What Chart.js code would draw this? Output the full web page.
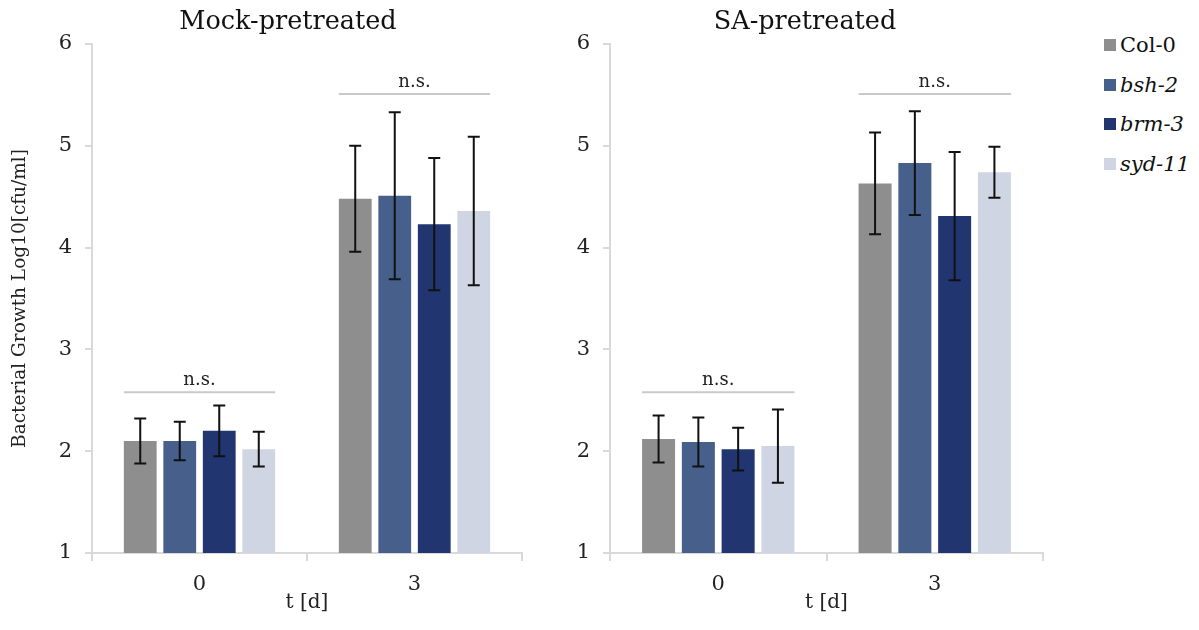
<!DOCTYPE html>
<html>
<head>
<meta charset="utf-8">
<script src="https://cdn.jsdelivr.net/npm/chart.js@4.4.0/dist/chart.umd.min.js"></script>
<style>
  html, body { margin: 0; padding: 0; background: #ffffff; }
  body { width: 1199px; height: 630px; position: relative; overflow: hidden; font-family: "DejaVu Serif", serif; }
  .cw { position: absolute; top: 0; height: 630px; }
  #wrapL { left: 0; width: 576px; }
  #wrapR { left: 545px; width: 520px; }
  #legend { position: absolute; left: 1104px; top: 33px; }
  .li { display: flex; align-items: center; height: 24px; margin-bottom: 15.5px; font-size: 21px; color: #111; }
  .sw { width: 12px; height: 12px; margin-right: 4px; }
</style>
</head>
<body>
<div class="cw" id="wrapL"><canvas id="cL"></canvas></div>
<div class="cw" id="wrapR"><canvas id="cR"></canvas></div>
<div id="legend"></div>
<script>
// ---- data ----
const categories = ['0', '3'];
const seriesNames = ['Col-0', 'bsh-2', 'brm-3', 'syd-11'];
const seriesItalic = [false, true, true, true];
const seriesColors = ['#8e8e8e', '#465f8b', '#213570', '#cfd5e3'];
const yTicks = [1, 2, 3, 4, 5, 6];

const mockCol0 = [2.10, 4.48];
const mockBsh2 = [2.10, 4.51];
const mockBrm3 = [2.20, 4.23];
const mockSyd11 = [2.02, 4.36];
const mockCol0Err = [0.22, 0.52];
const mockBsh2Err = [0.19, 0.82];
const mockBrm3Err = [0.25, 0.65];
const mockSyd11Err = [0.17, 0.73];
const mockSigLevel = [2.58, 5.51];
const mockSigText = ['n.s.', 'n.s.'];

const saCol0 = [2.12, 4.63];
const saBsh2 = [2.09, 4.83];
const saBrm3 = [2.02, 4.31];
const saSyd11 = [2.05, 4.74];
const saCol0Err = [0.23, 0.50];
const saBsh2Err = [0.24, 0.51];
const saBrm3Err = [0.21, 0.63];
const saSyd11Err = [0.36, 0.25];
const saSigLevel = [2.58, 5.51];
const saSigText = ['n.s.', 'n.s.'];

const FONT = '"DejaVu Serif", serif';
const AXIS = '#d9d9d9';

const errorBarPlugin = {
  id: 'errorBars',
  afterDatasetsDraw(chart) {
    const ctx = chart.ctx;
    const y = chart.scales.y;
    ctx.save();
    ctx.strokeStyle = '#111111';
    ctx.lineWidth = 2;
    chart.data.datasets.forEach((ds, di) => {
      const meta = chart.getDatasetMeta(di);
      meta.data.forEach((bar, i) => {
        const v = ds.data[i], e = ds.errors[i];
        const yt = y.getPixelForValue(v + e), yb = y.getPixelForValue(v - e);
        const cap = 6;
        ctx.beginPath();
        ctx.moveTo(bar.x, yt); ctx.lineTo(bar.x, yb);
        ctx.moveTo(bar.x - cap, yt); ctx.lineTo(bar.x + cap, yt);
        ctx.moveTo(bar.x - cap, yb); ctx.lineTo(bar.x + cap, yb);
        ctx.stroke();
      });
    });
    ctx.restore();
  }
};

const sigPlugin = {
  id: 'sig',
  afterDatasetsDraw(chart, args, opts) {
    const ctx = chart.ctx;
    const y = chart.scales.y;
    const n = chart.data.datasets.length;
    ctx.save();
    opts.levels.forEach((lv, i) => {
      const first = chart.getDatasetMeta(0).data[i];
      const last = chart.getDatasetMeta(n - 1).data[i];
      const x0 = first.x - first.width / 2, x1 = last.x + last.width / 2;
      const py = y.getPixelForValue(lv);
      ctx.strokeStyle = '#c9c9c9';
      ctx.lineWidth = 2;
      ctx.beginPath(); ctx.moveTo(x0, py); ctx.lineTo(x1, py); ctx.stroke();
      ctx.fillStyle = '#222222';
      ctx.font = '18px ' + FONT;
      ctx.textAlign = 'center';
      ctx.textBaseline = 'bottom';
      ctx.fillText(opts.texts[i], (x0 + x1) / 2, py - 3);
    });
    ctx.restore();
  }
};

function makeChart(id, title, vals, errs, sig, sigText, yWidth, rightSpace, showYTitle) {
  const datasets = seriesNames.map((name, k) => ({
    label: name,
    data: vals[k],
    errors: errs[k],
    backgroundColor: seriesColors[k],
    borderWidth: 0,
    categoryPercentage: 0.735,
    barPercentage: 0.83
  }));
  return new Chart(document.getElementById(id), {
    type: 'bar',
    data: { labels: categories, datasets },
    plugins: [errorBarPlugin, sigPlugin],
    options: {
      responsive: true,
      maintainAspectRatio: false,
      animation: false,
      layout: { padding: { left: 0, right: 0, top: 0, bottom: 0 } },
      plugins: {
        legend: { display: false },
        tooltip: { enabled: false },
        title: {
          display: true, text: title, color: '#111111',
          font: { family: FONT, size: 25.5, weight: 'normal' },
          padding: { top: 7, bottom: 6.4 }
        },
        sig: { levels: sig, texts: sigText }
      },
      scales: {
        x: {
          type: 'category',
          offset: true,
          grid: { offset: true, drawOnChartArea: false, drawTicks: true, tickLength: 8, color: AXIS, lineWidth: 2 },
          border: { display: true, color: AXIS, width: 2 },
          ticks: { color: '#222222', font: { family: FONT, size: 21 }, padding: 11 },
          title: { display: true, text: 't [d]', color: '#222222', font: { family: FONT, size: 20 }, padding: { top: 0, bottom: 15 } },
          afterFit(s) { s.height = 77; }
        },
        y: {
          min: yTicks[0], max: yTicks[yTicks.length - 1],
          afterBuildTicks(s) { s.ticks = yTicks.map(v => ({ value: v })); },
          grid: { drawOnChartArea: false, drawTicks: true, tickLength: 7, color: AXIS, lineWidth: 2 },
          border: { display: true, color: AXIS, width: 2 },
          ticks: { color: '#222222', font: { family: FONT, size: 21 }, padding: 13 },
          title: { display: showYTitle, text: 'Bacterial Growth Log10[cfu/ml]', color: '#222222', font: { family: FONT, size: 18.5 }, padding: { top: 9, bottom: 0 } },
          afterFit(s) { s.width = yWidth; }
        },
        spacer: {
          type: 'linear', position: 'right', display: true, min: 0, max: 1,
          grid: { display: false }, border: { display: false }, ticks: { display: false },
          afterFit(s) { s.width = rightSpace; }
        }
      }
    }
  });
}

makeChart('cL', 'Mock-pretreated',
  [mockCol0, mockBsh2, mockBrm3, mockSyd11],
  [mockCol0Err, mockBsh2Err, mockBrm3Err, mockSyd11Err],
  mockSigLevel, mockSigText, 92, 54, true);
makeChart('cR', 'SA-pretreated',
  [saCol0, saBsh2, saBrm3, saSyd11],
  [saCol0Err, saBsh2Err, saBrm3Err, saSyd11Err],
  saSigLevel, saSigText, 65, 22, false);

// legend
const lg = document.getElementById('legend');
seriesNames.forEach((name, k) => {
  const row = document.createElement('div');
  row.className = 'li';
  const sw = document.createElement('span');
  sw.className = 'sw';
  sw.style.background = seriesColors[k];
  const tx = document.createElement('span');
  tx.textContent = name;
  if (seriesItalic[k]) tx.style.fontStyle = 'italic';
  row.appendChild(sw); row.appendChild(tx);
  lg.appendChild(row);
});
</script>
</body>
</html>
